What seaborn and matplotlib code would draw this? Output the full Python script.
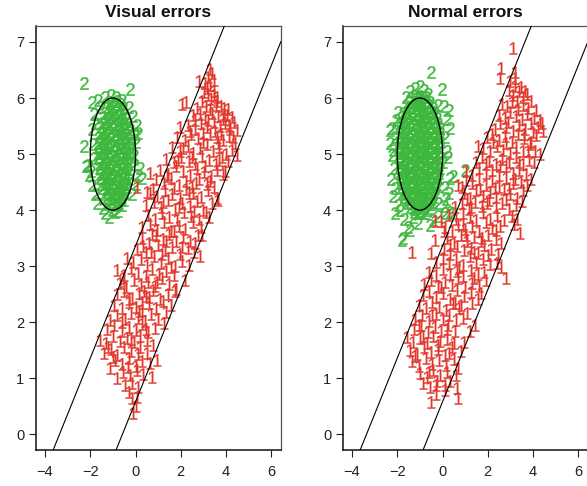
import matplotlib
matplotlib.use("Agg")
import numpy as np
import pandas as pd
import matplotlib.pyplot as plt
from matplotlib.patches import Ellipse
import seaborn as sns

# ---------------------------------------------------------------------------
# Simulated two-class sample, observed once with "visual" errors and once with
# normal errors.  Each entry is an (x, y) observation.
# ---------------------------------------------------------------------------
visual_class2 = [
    (-2.27,6.27),(-0.23,6.16),(-1.93,5.93),(-1.68,5.96),(-1.36,6.02),(-1.08,6.06),(-0.86,6.01),(-0.62,5.97),
    (-1.82,5.71),(-0.12,5.68),(-2.28,5.14),(-2.18,4.78),(-2.06,4.62),(0.07,5.52),(0.11,5.37),(0.04,5.22),
    (0.19,4.76),(0.30,4.57),(0.13,4.63),(-0.06,4.98),(-1.18,3.87),(-1.69,4.13),(-0.60,4.10),(-0.92,3.96),
    (-1.44,4.04),(-1.91,5.44),(-1.87,5.18),(-1.84,4.93),(-1.93,4.44),(-1.78,4.29),(0.03,4.46),(-0.17,4.29),
    (-1.02,4.01),(-0.77,3.99),(-1.33,3.94),(-0.31,5.84),(-1.52,5.84),(-1.79,5.56),(-2.09,4.81),(-1.97,4.70),
    (-0.05,4.83),(-0.01,5.36),
    (-1.14,5.93),(-0.97,5.90),(-0.81,5.95),(-0.66,5.89),
    (-1.27,5.84),(-1.11,5.81),(-0.94,5.85),(-0.77,5.80),(-0.56,5.83),
    (-1.35,5.73),(-1.19,5.76),(-1.02,5.72),(-0.88,5.75),(-0.70,5.71),(-0.49,5.74),
    (-1.43,5.66),(-1.26,5.63),(-1.10,5.67),(-0.93,5.64),(-0.78,5.68),(-0.60,5.62),(-0.41,5.65),
    (-1.49,5.55),(-1.33,5.58),(-1.16,5.54),(-1.00,5.57),(-0.84,5.53),(-0.67,5.59),(-0.50,5.56),(-0.33,5.54),
    (-1.54,5.48),(-1.39,5.45),(-1.22,5.49),(-1.06,5.46),(-0.90,5.50),(-0.73,5.44),(-0.57,5.47),(-0.39,5.49),(-0.26,5.45),
    (-1.58,5.37),(-1.44,5.40),(-1.28,5.36),(-1.12,5.39),(-0.95,5.35),(-0.79,5.41),(-0.63,5.38),(-0.46,5.36),(-0.30,5.40),
    (-1.62,5.30),(-1.47,5.27),(-1.31,5.31),(-1.15,5.28),(-0.99,5.32),(-0.83,5.26),(-0.67,5.29),(-0.50,5.31),(-0.33,5.27),(-0.20,5.30),
    (-1.64,5.19),(-1.49,5.22),(-1.34,5.18),(-1.18,5.21),(-1.02,5.17),(-0.86,5.23),(-0.70,5.20),(-0.53,5.18),(-0.37,5.22),(-0.22,5.19),
    (-1.66,5.12),(-1.51,5.09),(-1.36,5.13),(-1.20,5.10),(-1.04,5.14),(-0.88,5.08),(-0.72,5.11),(-0.56,5.13),(-0.40,5.09),(-0.24,5.12),
    (-1.65,5.01),(-1.50,5.04),(-1.35,5.00),(-1.19,5.03),(-1.03,4.99),(-0.87,5.05),(-0.71,5.02),(-0.55,5.00),(-0.39,5.04),(-0.25,5.01),
    (-1.64,4.94),(-1.48,4.91),(-1.33,4.95),(-1.17,4.92),(-1.01,4.96),(-0.85,4.90),(-0.69,4.93),(-0.53,4.95),(-0.37,4.91),(-0.24,4.94),
    (-1.62,4.83),(-1.46,4.86),(-1.30,4.82),(-1.14,4.85),(-0.98,4.81),(-0.82,4.87),(-0.66,4.84),(-0.50,4.82),(-0.35,4.86),
    (-1.60,4.76),(-1.44,4.73),(-1.28,4.77),(-1.12,4.74),(-0.96,4.78),(-0.80,4.72),(-0.64,4.75),(-0.48,4.77),(-0.33,4.73),
    (-1.58,4.65),(-1.42,4.68),(-1.26,4.64),(-1.10,4.67),(-0.94,4.63),(-0.78,4.69),(-0.62,4.66),(-0.46,4.64),(-0.32,4.68),
    (-1.55,4.58),(-1.39,4.55),(-1.23,4.59),(-1.07,4.56),(-0.91,4.60),(-0.75,4.54),(-0.59,4.57),(-0.44,4.59),(-0.31,4.55),
    (-1.51,4.47),(-1.35,4.50),(-1.19,4.46),(-1.03,4.49),(-0.87,4.45),(-0.71,4.51),(-0.55,4.48),(-0.40,4.46),
    (-1.46,4.40),(-1.30,4.37),(-1.14,4.41),(-0.98,4.38),(-0.82,4.42),(-0.66,4.36),(-0.51,4.39),(-0.38,4.41),
    (-1.40,4.29),(-1.24,4.32),(-1.08,4.28),(-0.92,4.31),(-0.76,4.27),(-0.60,4.33),(-0.45,4.30),
    (-1.32,4.22),(-1.16,4.19),(-1.00,4.23),(-0.84,4.20),(-0.68,4.24),(-0.53,4.18),
    (-1.22,4.11),(-1.05,4.14),(-0.88,4.10),(-0.72,4.13),
]

visual_class1 = [
    (3.28,6.52),(3.36,6.44),(3.22,6.38),
    (2.82,6.30),(3.05,6.27),(3.30,6.24),(3.45,6.33),(3.15,6.18),
    (3.02,6.10),(3.20,6.05),(3.48,6.12),(3.62,6.02),(3.35,5.98),(2.95,5.95),
    (2.05,5.90),(2.25,5.93),(3.10,5.85),(3.55,5.88),(3.78,5.86),(3.92,5.82),(4.10,5.80),(3.30,5.80),(2.70,5.83),
    (2.55,5.70),(2.85,5.72),(3.05,5.65),(3.40,5.74),(3.65,5.68),(3.88,5.62),(4.05,5.70),(4.25,5.66),(3.20,5.60),
    (1.98,5.49),(2.30,5.52),(2.62,5.45),(2.90,5.56),(3.15,5.48),(3.50,5.42),(3.72,5.50),(3.95,5.55),(4.18,5.45),(4.48,5.43),(4.35,5.58),
    (1.85,5.30),(2.18,5.25),(2.45,5.35),(2.75,5.28),(3.00,5.22),(3.28,5.36),(3.60,5.30),(3.85,5.25),(4.12,5.32),(4.40,5.20),
    (1.60,5.12),(1.95,5.05),(2.30,5.15),(2.55,5.02),(2.85,5.10),(3.15,5.18),(3.42,5.05),(3.70,5.12),(3.98,5.00),(4.25,5.08),(4.50,4.99),
    (1.35,4.92),(1.70,4.85),(2.00,4.95),(2.35,4.88),(2.62,4.82),(2.95,4.97),(3.25,4.90),(3.55,4.83),(3.82,4.95),(4.08,4.87),
    (0.65,4.66),(1.10,4.72),(1.42,4.65),(1.78,4.78),(2.10,4.70),(2.42,4.62),(2.72,4.75),(3.02,4.68),(3.35,4.60),(3.60,4.72),(3.85,4.64),
    (0.06,4.42),(0.90,4.55),(1.25,4.48),(1.55,4.58),(1.90,4.45),(2.22,4.52),(2.50,4.42),(2.82,4.56),(3.15,4.47),(3.45,4.41),
    (0.50,4.33),(0.62,4.30),(0.95,4.25),(1.30,4.36),(1.60,4.28),(1.95,4.22),(2.25,4.38),(2.55,4.30),(2.90,4.24),(3.20,4.35),(3.58,4.22),
    (0.48,4.10),(0.82,4.15),(1.12,4.05),(1.45,4.18),(1.75,4.02),(2.05,4.12),(2.40,4.07),(2.70,4.17),(3.00,4.00),(3.40,4.12),(3.65,4.18),
    (0.55,3.92),(0.85,3.85),(1.18,3.95),(1.50,3.88),(1.82,3.82),(2.15,3.96),(2.45,3.90),(2.80,3.84),(3.10,3.97),
    (0.30,3.70),(0.62,3.75),(0.95,3.65),(1.25,3.78),(1.55,3.62),(1.90,3.72),(2.20,3.66),(2.55,3.78),(2.90,3.70),
    (0.28,3.50),(0.58,3.42),(0.90,3.55),(1.22,3.48),(1.50,3.58),(1.80,3.44),(2.12,3.52),(2.42,3.45),(2.75,3.56),
    (0.05,3.30),(0.35,3.36),(0.68,3.25),(1.00,3.38),(1.32,3.28),(1.62,3.34),(1.95,3.22),(2.30,3.32),(2.60,3.25),(2.87,3.18),
    (-0.38,3.15),(-0.10,3.08),(0.22,3.12),(0.52,3.02),(0.82,3.18),(1.12,3.05),(1.42,3.14),(1.75,3.00),(2.05,3.10),(2.38,3.02),
    (-0.82,2.93),(-0.50,2.85),(-0.20,2.96),(0.12,2.88),(0.45,2.82),(0.75,2.95),(1.05,2.86),(1.35,2.92),(1.68,2.84),(2.20,2.76),
    (-0.70,2.70),(-0.40,2.62),(-0.08,2.75),(0.25,2.66),(0.55,2.72),(0.85,2.64),(1.15,2.78),(1.50,2.68),(1.80,2.60),
    (-0.80,2.50),(-0.50,2.56),(-0.15,2.44),(0.15,2.52),(0.48,2.46),(0.78,2.58),(1.10,2.42),(1.42,2.50),(1.75,2.55),
    (-0.95,2.30),(-0.62,2.25),(-0.30,2.36),(0.00,2.28),(0.30,2.22),(0.60,2.34),(0.90,2.26),(1.22,2.38),(1.55,2.30),
    (-1.12,2.04),(-0.80,2.12),(-0.48,2.05),(-0.18,2.16),(0.12,2.08),(0.40,2.02),(0.70,2.14),(1.00,2.06),(1.24,1.98),(1.35,2.18),
    (-1.25,1.88),(-0.95,1.95),(-0.62,1.84),(-0.30,1.92),(0.00,1.86),(0.28,1.96),(0.55,1.82),(0.85,1.90),
    (-1.56,1.69),(-1.30,1.62),(-1.00,1.75),(-0.68,1.66),(-0.38,1.72),(-0.08,1.64),(0.20,1.76),(0.50,1.68),(0.78,1.60),
    (-1.40,1.45),(-1.10,1.52),(-0.80,1.42),(-0.50,1.55),(-0.20,1.48),(0.10,1.44),(0.50,1.45),(0.95,1.33),
    (-1.12,1.19),(-0.92,1.32),(-0.60,1.25),(-0.30,1.36),(0.00,1.22),(0.28,1.30),(0.62,1.27),
    (-0.80,1.00),(-0.55,1.12),(-0.25,1.05),(0.05,1.15),(0.35,1.08),(0.72,1.02),
    (-0.48,0.88),(-0.15,0.92),(0.10,0.84),
    (-0.15,0.65),(0.05,0.66),(-0.30,0.75),
    (-0.10,0.38),(0.00,0.50),
    (3.45,6.05),(3.58,5.95),(3.90,5.72),(4.15,5.52),(4.30,5.30),(3.77,5.35),(3.66,5.20),(3.45,5.58),
    (2.98,5.38),(2.65,5.60),(2.40,5.42),(2.12,5.10),(1.88,4.90),(2.50,4.95),(3.08,4.78),(3.70,4.90),
    (3.95,4.70),(3.28,4.52),(2.68,4.48),(2.35,4.30),(1.72,4.40),(1.38,4.60),(0.78,4.38),(1.20,4.15),
    (1.90,4.05),(2.58,3.98),(3.25,3.88),(2.95,3.55),(2.62,3.42),(2.05,3.35),(1.70,3.62),(1.35,3.45),
    (0.72,3.58),(0.45,3.25),(1.18,3.22),(1.58,2.98),(0.95,2.72),(0.38,2.55),(-0.30,2.42),(0.60,2.45),
    (0.15,2.20),(-0.60,2.00),(0.45,1.88),(-0.20,1.70),(-1.00,1.38),(-0.35,1.20),(0.20,1.55),(-1.20,1.55),
    (0.30,2.35),(-0.55,2.78),
]

normal_class2 = [
    (-0.49,6.47),(-0.04,6.16),(-1.45,6.12),(-1.22,6.18),(-1.00,6.22),(-0.80,6.15),(-0.66,6.08),(-1.60,6.02),
    (-2.33,5.43),(-2.22,5.46),(-2.30,5.20),(-2.12,5.30),(-2.25,4.98),(-2.15,4.75),(-2.28,4.55),(-2.10,4.40),
    (-2.20,4.25),(-2.05,5.60),(-1.95,5.75),(-2.18,5.08),
    (0.32,5.47),(0.20,5.62),(-0.22,5.88),(0.05,5.85),(0.28,5.78),(0.45,4.60),(0.98,4.72),(0.02,4.86),
    (0.32,4.58),(0.10,4.42),(0.18,5.05),(0.12,5.30),(0.25,4.95),(0.15,4.20),(0.30,4.30),
    (-1.81,3.47),(-1.44,3.65),(-1.10,3.77),(-0.56,3.74),(0.10,3.95),(0.32,3.97),(-1.53,3.70),(-1.75,3.50),
    (0.45,3.95),(-0.43,3.83),(-1.90,4.00),(-1.70,3.85),(-0.20,3.90),(-0.85,3.95),(-1.30,3.88),(-1.95,4.10),
    (0.05,4.08),(-2.10,3.95),(-0.20,4.13),
    (-1.28,6.03),(-1.13,6.00),(-0.99,6.04),(-0.85,6.01),(-0.71,6.02),
    (-1.47,5.92),(-1.33,5.95),(-1.18,5.91),(-1.03,5.94),(-0.88,5.90),(-0.73,5.95),(-0.55,5.93),
    (-1.63,5.85),(-1.48,5.82),(-1.33,5.86),(-1.19,5.83),(-1.04,5.87),(-0.89,5.81),(-0.74,5.84),(-0.58,5.86),(-0.41,5.83),
    (-1.74,5.74),(-1.59,5.77),(-1.44,5.73),(-1.29,5.76),(-1.14,5.72),(-0.99,5.78),(-0.84,5.75),(-0.68,5.73),(-0.52,5.77),(-0.33,5.74),
    (-1.81,5.67),(-1.66,5.64),(-1.51,5.68),(-1.36,5.65),(-1.21,5.69),(-1.06,5.63),(-0.91,5.66),(-0.76,5.68),(-0.60,5.64),(-0.44,5.67),(-0.26,5.65),
    (-1.86,5.56),(-1.71,5.59),(-1.56,5.55),(-1.41,5.58),(-1.26,5.54),(-1.11,5.60),(-0.96,5.57),(-0.81,5.55),(-0.65,5.59),(-0.50,5.56),(-0.34,5.58),(-0.19,5.55),
    (-1.90,5.49),(-1.75,5.46),(-1.60,5.50),(-1.45,5.47),(-1.30,5.51),(-1.15,5.45),(-1.00,5.48),(-0.85,5.50),(-0.70,5.46),(-0.54,5.49),(-0.39,5.47),(-0.24,5.50),(-0.12,5.46),
    (-1.92,5.38),(-1.77,5.41),(-1.62,5.37),(-1.47,5.40),(-1.32,5.36),(-1.17,5.42),(-1.02,5.39),(-0.87,5.37),(-0.72,5.41),(-0.57,5.38),(-0.42,5.40),(-0.27,5.36),(-0.13,5.39),
    (-1.93,5.31),(-1.78,5.28),(-1.63,5.32),(-1.48,5.29),(-1.33,5.33),(-1.18,5.27),(-1.03,5.30),(-0.88,5.32),(-0.73,5.28),(-0.58,5.31),(-0.43,5.29),(-0.28,5.33),(-0.12,5.30),
    (-1.94,5.20),(-1.79,5.23),(-1.64,5.19),(-1.49,5.22),(-1.34,5.18),(-1.19,5.24),(-1.04,5.21),(-0.89,5.19),(-0.74,5.23),(-0.59,5.20),(-0.44,5.22),(-0.29,5.18),(-0.14,5.21),
    (-1.93,5.13),(-1.78,5.10),(-1.63,5.14),(-1.48,5.11),(-1.33,5.15),(-1.18,5.09),(-1.03,5.12),(-0.88,5.14),(-0.73,5.10),(-0.58,5.13),(-0.43,5.11),(-0.28,5.15),(-0.13,5.12),
    (-1.94,5.02),(-1.79,5.05),(-1.64,5.01),(-1.49,5.04),(-1.34,5.00),(-1.19,5.06),(-1.04,5.03),(-0.89,5.01),(-0.74,5.05),(-0.59,5.02),(-0.44,5.04),(-0.29,5.00),(-0.14,5.03),
    (-1.93,4.95),(-1.78,4.92),(-1.63,4.96),(-1.48,4.93),(-1.33,4.97),(-1.18,4.91),(-1.03,4.94),(-0.88,4.96),(-0.73,4.92),(-0.58,4.95),(-0.43,4.93),(-0.28,4.97),(-0.13,4.94),
    (-1.92,4.84),(-1.77,4.87),(-1.62,4.83),(-1.47,4.86),(-1.32,4.82),(-1.17,4.88),(-1.02,4.85),(-0.87,4.83),(-0.72,4.87),(-0.57,4.84),(-0.42,4.86),(-0.27,4.82),(-0.12,4.85),
    (-1.92,4.77),(-1.77,4.74),(-1.62,4.78),(-1.47,4.75),(-1.32,4.79),(-1.17,4.73),(-1.02,4.76),(-0.87,4.78),(-0.72,4.74),(-0.57,4.77),(-0.42,4.75),(-0.27,4.79),(-0.13,4.76),
    (-1.91,4.66),(-1.76,4.69),(-1.61,4.65),(-1.46,4.68),(-1.31,4.64),(-1.16,4.70),(-1.01,4.67),(-0.86,4.65),(-0.71,4.69),(-0.56,4.66),(-0.41,4.68),(-0.26,4.64),(-0.14,4.67),
    (-1.89,4.59),(-1.74,4.56),(-1.59,4.60),(-1.44,4.57),(-1.29,4.61),(-1.14,4.55),(-0.99,4.58),(-0.84,4.60),(-0.69,4.56),(-0.54,4.59),(-0.39,4.57),(-0.25,4.61),(-0.15,4.58),
    (-1.88,4.48),(-1.73,4.51),(-1.58,4.47),(-1.43,4.50),(-1.28,4.46),(-1.13,4.52),(-0.98,4.49),(-0.83,4.47),(-0.68,4.51),(-0.53,4.48),(-0.38,4.50),(-0.23,4.46),
    (-1.85,4.41),(-1.70,4.38),(-1.55,4.42),(-1.40,4.39),(-1.25,4.43),(-1.10,4.37),(-0.95,4.40),(-0.80,4.42),(-0.65,4.38),(-0.50,4.41),(-0.35,4.39),(-0.22,4.43),
    (-1.79,4.30),(-1.64,4.33),(-1.49,4.29),(-1.34,4.32),(-1.19,4.28),(-1.04,4.34),(-0.89,4.31),(-0.74,4.29),(-0.59,4.33),(-0.44,4.30),(-0.29,4.32),
    (-1.71,4.23),(-1.56,4.20),(-1.41,4.24),(-1.26,4.21),(-1.11,4.25),(-0.96,4.19),(-0.81,4.22),(-0.66,4.24),(-0.51,4.20),(-0.36,4.23),
    (-1.58,4.12),(-1.43,4.15),(-1.28,4.11),(-1.13,4.14),(-0.98,4.10),(-0.83,4.16),(-0.68,4.13),(-0.53,4.11),(-0.42,4.15),
    (-1.42,4.05),(-1.27,4.02),(-1.12,4.06),(-0.97,4.03),(-0.82,4.07),(-0.67,4.01),(-0.57,4.04),
    (-1.24,3.97),(-1.09,3.94),(-0.94,3.98),(-0.79,3.95),
]

normal_class1 = [
    (3.11,6.89),(2.60,6.53),(2.53,6.36),(3.19,6.47),
    (3.00,6.30),(3.22,6.22),(3.38,6.12),(3.10,6.05),(3.55,6.02),(3.75,6.08),(2.95,6.15),
    (2.85,5.85),(3.05,5.92),(3.30,5.95),(3.55,5.88),(3.80,5.82),(2.65,5.90),
    (2.50,5.70),(2.75,5.65),(3.00,5.75),(3.25,5.68),(3.50,5.62),(3.75,5.72),(4.05,5.65),(4.30,5.60),
    (2.30,5.45),(2.55,5.55),(2.82,5.48),(3.10,5.42),(3.38,5.52),(3.65,5.45),(3.92,5.55),(4.20,5.48),(4.42,5.42),(4.38,5.56),
    (1.95,5.30),(2.20,5.35),(2.48,5.25),(2.75,5.32),(3.05,5.22),(3.35,5.36),(3.62,5.28),(3.90,5.22),(4.15,5.34),
    (1.56,5.14),(1.80,5.10),(2.10,5.05),(2.40,5.15),(2.68,5.08),(2.98,5.02),(3.25,5.12),(3.55,5.05),(3.85,5.18),(4.10,5.06),(4.30,5.00),
    (1.50,4.85),(1.75,4.95),(2.05,4.88),(2.35,4.82),(2.65,4.92),(2.95,4.85),(3.25,4.95),(3.55,4.82),(3.82,4.90),(4.05,4.85),
    (1.04,4.70),(1.30,4.62),(1.60,4.75),(1.90,4.66),(2.20,4.72),(2.50,4.62),(2.80,4.78),(3.10,4.66),(3.40,4.72),(3.70,4.64),
    (0.68,4.45),(0.84,4.42),(1.04,4.54),(1.30,4.48),(1.60,4.56),(1.90,4.44),(2.20,4.52),(2.50,4.42),(2.82,4.58),(3.12,4.48),(3.45,4.50),(3.72,4.44),
    (0.95,4.30),(1.20,4.22),(1.48,4.36),(1.78,4.26),(2.08,4.32),(2.38,4.24),(2.70,4.38),(3.00,4.28),(3.30,4.22),(3.55,4.35),
    (0.55,4.05),(0.85,4.12),(1.15,4.02),(1.45,4.15),(1.75,4.08),(2.05,4.18),(2.35,4.05),(2.65,4.12),(2.95,4.02),(3.25,4.10),(3.50,4.16),
    (-0.35,3.80),(-0.05,3.80),(0.30,3.92),(0.60,3.85),(0.90,3.95),(1.20,3.88),(1.50,3.82),(1.80,3.96),(2.10,3.85),(2.40,3.92),(2.70,3.82),(3.05,3.90),(3.30,3.85),
    (0.10,3.70),(0.40,3.62),(0.70,3.75),(1.00,3.66),(1.30,3.72),(1.60,3.62),(1.90,3.78),(2.20,3.68),(2.55,3.72),(3.41,3.59),
    (-0.34,3.47),(0.20,3.50),(0.50,3.42),(0.80,3.55),(1.10,3.45),(1.40,3.52),(1.70,3.44),(2.00,3.56),(2.35,3.48),(2.60,3.42),
    (-1.37,3.26),(-0.49,3.24),(0.05,3.30),(0.35,3.22),(0.65,3.36),(0.95,3.28),(1.25,3.32),(1.55,3.24),(1.85,3.38),(2.15,3.30),(2.45,3.22),
    (-0.30,3.08),(0.00,3.15),(0.30,3.05),(0.60,3.12),(0.90,3.02),(1.20,3.18),(1.50,3.08),(1.80,3.12),(2.10,3.04),(2.60,2.99),
    (-0.60,2.90),(-0.30,2.84),(0.00,2.95),(0.32,2.86),(0.62,2.92),(0.92,2.82),(1.25,2.94),(1.55,2.86),(1.85,2.90),(2.82,2.79),
    (-0.80,2.68),(-0.50,2.75),(-0.20,2.64),(0.10,2.72),(0.40,2.66),(0.70,2.78),(1.00,2.62),(1.30,2.70),(1.62,2.65),(1.90,2.75),
    (-0.88,2.48),(-0.60,2.55),(-0.28,2.45),(0.02,2.52),(0.32,2.42),(0.62,2.58),(0.95,2.46),(1.25,2.54),(1.55,2.42),
    (-1.05,2.30),(-0.75,2.25),(-0.45,2.36),(-0.15,2.28),(0.15,2.22),(0.45,2.34),(0.75,2.26),(1.06,2.17),(1.30,2.35),
    (-1.20,2.05),(-0.90,2.12),(-0.60,2.02),(-0.30,2.15),(0.00,2.06),(0.30,2.12),(0.60,2.04),(0.90,2.08),
    (-1.25,1.88),(-0.95,1.95),(-0.65,1.82),(-0.35,1.92),(-0.05,1.85),(0.25,1.95),(0.55,1.84),(1.42,1.95),(1.20,1.85),
    (-1.59,1.74),(-1.30,1.65),(-1.00,1.72),(-0.70,1.62),(-0.40,1.75),(-0.10,1.66),(0.20,1.70),(0.50,1.62),(0.95,1.65),
    (-1.42,1.50),(-1.12,1.44),(-0.82,1.55),(-0.52,1.46),(-0.22,1.52),(0.10,1.42),(0.40,1.55),(0.80,1.48),
    (-1.35,1.30),(-1.05,1.22),(-0.75,1.36),(-0.45,1.25),(-0.15,1.32),(0.15,1.24),(0.50,1.35),
    (-1.00,1.10),(-0.70,1.02),(-0.40,1.15),(-0.10,1.05),(0.20,1.12),(0.60,1.05),(0.68,1.18),
    (-0.85,0.92),(-0.55,0.85),(-0.25,0.95),(0.10,0.88),(0.62,0.83),
    (-0.49,0.58),(0.10,0.79),(0.69,0.64),(-0.30,0.72),
    (3.20,6.35),(3.45,6.20),(3.65,6.12),(3.90,5.95),(4.15,5.78),(3.35,5.80),(2.90,5.58),(3.60,5.35),
    (4.00,5.40),(3.78,5.05),(3.40,4.85),(2.80,5.20),(2.25,5.22),(1.90,4.82),(2.55,4.78),(3.20,4.55),
    (3.90,4.55),(2.95,4.40),(2.30,4.40),(1.65,4.38),(1.10,4.20),(1.95,4.12),(2.80,4.20),(3.15,3.75),
    (2.35,3.65),(1.75,3.50),(1.05,3.55),(0.35,3.38),(1.40,3.25),(2.00,3.20),(0.75,2.98),(1.40,2.78),
    (-0.05,2.62),(0.55,2.35),(-0.45,2.12),(0.20,1.88),(-0.85,1.75),(-0.20,1.60),(-1.20,1.40),(-0.60,1.12),
    (0.30,1.45),(-0.30,0.88),(0.35,0.95),(-1.05,1.95),(0.80,2.30),(1.70,2.52),(2.40,3.05),(0.05,3.62),
    (0.90,3.75),(1.25,4.05),
]

# Boundary lines y = x + b and the class-2 reference ellipse
band_intercepts = [3.36, 0.58]
band_slope = 1.0
ellipse_center = (-1.0, 5.0)
ellipse_size = (2.0, 2.0)

panel_titles = ["Visual errors", "Normal errors"]
x_ticks = [-4, -2, 0, 2, 4, 6]
y_ticks = [0, 1, 2, 3, 4, 5, 6, 7]

RED = "#E2372B"
GREEN = "#3DB83D"

sns.set_theme(style="white")
plt.rcParams["font.family"] = ["Liberation Sans", "DejaVu Sans"]
plt.rcParams["mathtext.fontset"] = "custom"
plt.rcParams["mathtext.rm"] = "Liberation Sans"
plt.rcParams["mathtext.it"] = "Liberation Sans"
plt.rcParams["mathtext.sf"] = "Liberation Sans"
plt.rcParams["mathtext.default"] = "regular"
plt.rcParams["axes.unicode_minus"] = True

fig = plt.figure(figsize=(5.87, 4.86), dpi=100)
rects = [[0.0613, 0.0741, 0.4174, 0.873], [0.5843, 0.0741, 0.4174, 0.873]]
panels = [(visual_class1, visual_class2), (normal_class1, normal_class2)]

glyph_size = 80  # points^2, glyph height about 10 px

for rect, title, (cls1, cls2) in zip(rects, panel_titles, panels):
    ax = fig.add_axes(rect)
    d2 = pd.DataFrame(cls2, columns=["x", "y"])
    d1 = pd.DataFrame(cls1, columns=["x", "y"])
    # digits as plotting symbols; a thin outline in the same colour gives the
    # slightly heavy stroke of the printed glyphs
    sns.scatterplot(data=d2, x="x", y="y", marker="$2$", color=GREEN, s=glyph_size,
                    linewidth=0.25, edgecolor=GREEN, ax=ax, zorder=2)
    sns.scatterplot(data=d1, x="x", y="y", marker="$1$", color=RED, s=glyph_size,
                    linewidth=0.1, edgecolor=RED, ax=ax, zorder=3)

    ax.add_patch(Ellipse(ellipse_center, ellipse_size[0], ellipse_size[1], fill=False,
                         edgecolor="black", linewidth=1.0, zorder=4))
    for b in band_intercepts:
        ax.axline((0, b), slope=band_slope, color="black", linewidth=0.8, zorder=4)

    ax.set_xlim(-4.4, 6.43)
    ax.set_ylim(-0.28, 7.29)
    ax.set_xticks(x_ticks)
    ax.set_yticks(y_ticks)
    ax.set_xlabel("")
    ax.set_ylabel("")
    ax.set_title(title, fontsize=12.5, fontweight="bold", pad=6.3, color="#111111")
    ax.tick_params(axis="both", which="major", length=5, width=0.8, color="#222222",
                   labelsize=10.5, labelcolor="#222222", left=True, bottom=True)
    ax.tick_params(axis="y", pad=3.5)
    ax.tick_params(axis="x", pad=5.5)
    for side in ["top", "right"]:
        ax.spines[side].set_color("#555555")
        ax.spines[side].set_linewidth(0.9)
    for side in ["left", "bottom"]:
        ax.spines[side].set_color("#111111")
        ax.spines[side].set_linewidth(1.1)
    ax.grid(False)

fig.savefig("out.png", dpi=100)
